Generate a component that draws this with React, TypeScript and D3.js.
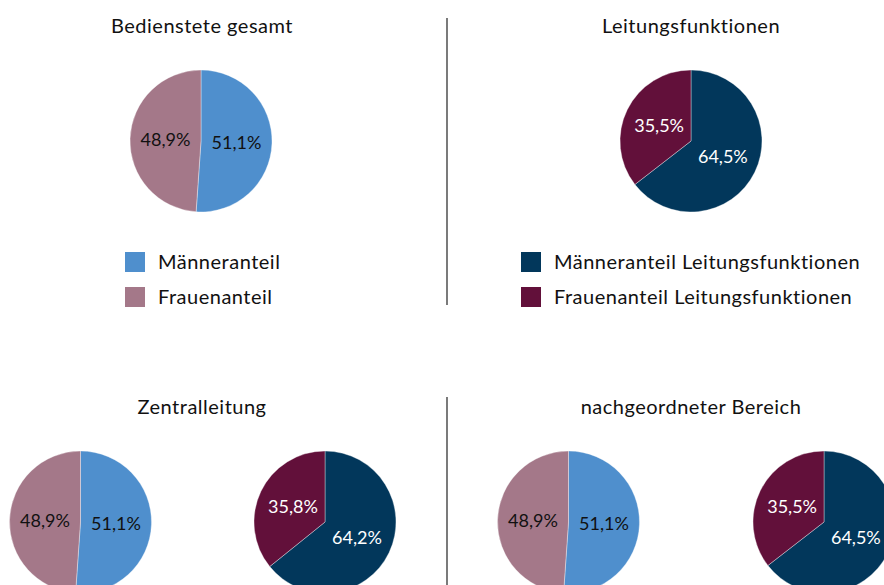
import React, { useEffect, useRef } from "react";
import * as d3 from "d3";

const panelTitles = ["Bedienstete gesamt", "Leitungsfunktionen", "Zentralleitung", "nachgeordneter Bereich"];
const genderLabels = ["Männeranteil", "Frauenanteil"];
const leadLabels = ["Männeranteil Leitungsfunktionen", "Frauenanteil Leitungsfunktionen"];

// shares in percent: [men, women]
const totalShares = [51.1, 48.9];
const leadShares = [64.5, 35.5];
const zentralTotal = [51.1, 48.9];
const zentralLead = [64.2, 35.8];
const nachTotal = [51.1, 48.9];
const nachLead = [64.5, 35.5];

const genderColors = ["#4F8FCD", "#A47889"];
const leadColors = ["#02375B", "#62103A"];
const labelColorsGender = ["#111", "#111"];
const labelColorsLead = ["#fff", "#fff"];

const W = 884;
const H = 585;
const FONT = "Lato, 'Open Sans', sans-serif";

const App = () => {
  const svgRef = useRef<SVGSVGElement>(null);

  useEffect(() => {
    const svg = d3.select(svgRef.current);
    svg.selectAll("*").remove();

    const R = 71;
    const pie = d3.pie<number>().sort(null).value((d) => d);
    const arc = d3.arc<d3.PieArcDatum<number>>().innerRadius(0).outerRadius(R);
    const locale = d3.formatLocale({ decimal: ",", thousands: ".", grouping: [3], currency: ["", "€"] });
    const fmt = locale.format(".1f");

    const drawPie = (cx: number, cy: number, values: number[], colors: string[], textColors: string[]) => {
      const g = svg.append("g").attr("transform", `translate(${cx},${cy})`);
      const arcs = pie(values);
      g.selectAll("path")
        .data(arcs)
        .enter()
        .append("path")
        .attr("d", arc)
        .attr("fill", (_, i) => colors[i])
        .attr("stroke", "#fff")
        .attr("stroke-opacity", 0.6)
        .attr("stroke-width", 0.6);
      g.selectAll("text")
        .data(arcs)
        .enter()
        .append("text")
        .attr("x", (d) => arc.centroid(d)[0])
        .attr("y", (d) => arc.centroid(d)[1])
        .attr("dy", "0.36em")
        .attr("text-anchor", "middle")
        .attr("font-family", FONT)
        .attr("font-size", 18)
        .attr("fill", (_, i) => textColors[i])
        .text((d) => fmt(d.data) + "%");
    };

    const title = (x: number, y: number, t: string) =>
      svg.append("text")
        .attr("x", x)
        .attr("y", y)
        .attr("text-anchor", "middle")
        .attr("font-family", FONT)
        .attr("font-size", 20)
        .attr("letter-spacing", 0.5)
        .style("font-variant-ligatures", "none")
        .attr("fill", "#111")
        .text(t);

    const legend = (x: number, y: number, labels: string[], colors: string[]) => {
      const g = svg.append("g").attr("transform", `translate(${x},${y})`);
      labels.forEach((l, i) => {
        g.append("rect").attr("x", 0).attr("y", i * 35).attr("width", 20).attr("height", 20).attr("fill", colors[i]);
        g.append("text")
          .attr("x", 33)
          .attr("y", i * 35 + 10)
          .attr("dy", "0.36em")
          .attr("font-family", FONT)
          .attr("font-size", 20)
          .attr("letter-spacing", 0.5)
          .style("font-variant-ligatures", "none")
          .attr("fill", "#111")
          .text(l);
      });
    };

    // dividers
    svg.append("line").attr("x1", 447).attr("x2", 447).attr("y1", 18).attr("y2", 305).attr("stroke", "#222").attr("stroke-width", 1.2);
    svg.append("line").attr("x1", 447).attr("x2", 447).attr("y1", 397).attr("y2", H).attr("stroke", "#222").attr("stroke-width", 1.2);

    // top row
    title(202, 33, panelTitles[0]);
    title(691, 33, panelTitles[1]);
    drawPie(201, 141, totalShares, genderColors, labelColorsGender);
    drawPie(691, 141, leadShares, leadColors, labelColorsLead);
    legend(125, 252, genderLabels, genderColors);
    legend(521, 252, leadLabels, leadColors);

    // bottom row
    title(202, 414, panelTitles[2]);
    title(691, 414, panelTitles[3]);
    drawPie(80.5, 522, zentralTotal, genderColors, labelColorsGender);
    drawPie(325, 522, zentralLead, leadColors, labelColorsLead);
    drawPie(568.5, 522, nachTotal, genderColors, labelColorsGender);
    drawPie(824, 522, nachLead, leadColors, labelColorsLead);
  }, []);

  return (
    <div style={{ position: "absolute", left: 0, top: 0, width: W, height: H, background: "#fff" }}>
      <svg ref={svgRef} width={W} height={H}></svg>
    </div>
  );
};

export default App;
